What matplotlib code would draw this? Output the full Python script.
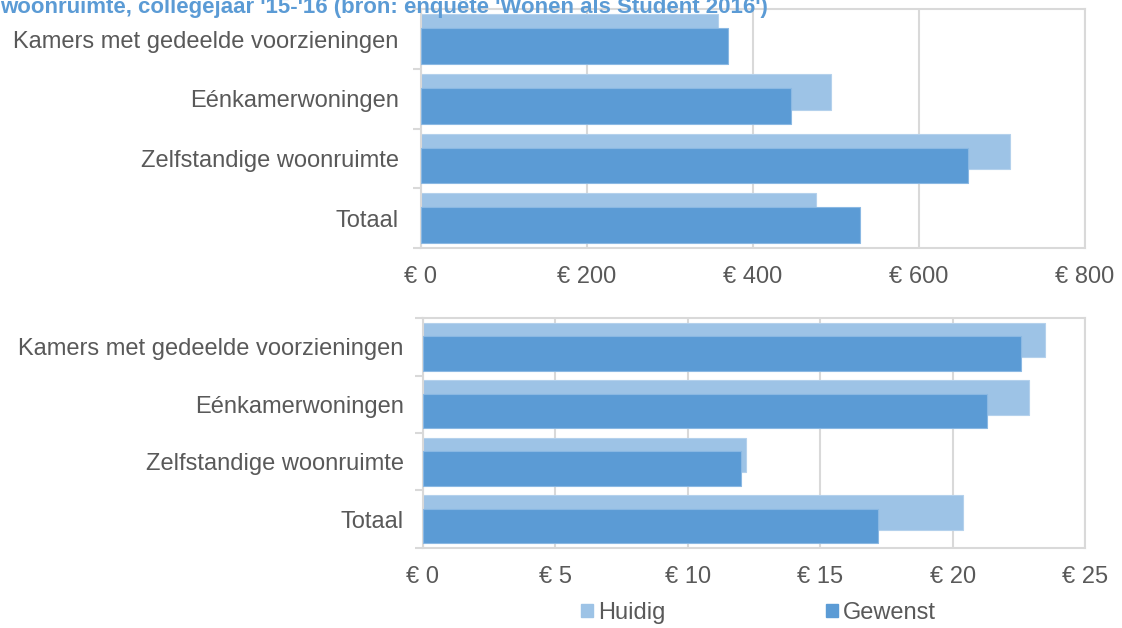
import numpy as np
import matplotlib.pyplot as plt
from matplotlib.patches import Patch

plt.rcParams['font.family'] = ['Liberation Sans', 'DejaVu Sans']

categories = ['Kamers met gedeelde voorzieningen', 'Eénkamerwoningen',
              'Zelfstandige woonruimte', 'Totaal']
series = ['Huidig', 'Gewenst']

# huur per maand (euro)
huur_huidig = [358, 494, 710, 476]
huur_gewenst = [370, 446, 659, 529]
huur_ticks = [0, 200, 400, 600, 800]

# huur per m2 (euro)
m2_huidig = [23.5, 22.9, 12.2, 20.4]
m2_gewenst = [22.6, 21.3, 12.0, 17.2]
m2_ticks = [0, 5, 10, 15, 20, 25]

title = "woonruimte, collegejaar '15-'16 (bron: enquête 'Wonen als Student 2016')"

c_huidig = '#9DC3E6'
c_gewenst = '#5B9BD5'
grid_c = '#D9D9D9'
text_c = '#595959'
fs = 17

fig = plt.figure(figsize=(11.22, 6.28), dpi=100)


def bar_panel(rect, huidig, gewenst, ticks, labelpad):
    ax = fig.add_axes(rect)
    y = np.arange(len(categories))
    w, d = 0.60, 0.235
    ax.barh(y - d / 2, huidig, height=w, color=c_huidig,
            edgecolor='#B4D1EC', linewidth=0.8, zorder=2)
    ax.barh(y + d / 2, gewenst, height=w, color=c_gewenst,
            edgecolor='#8AB8E3', linewidth=0.8, zorder=3)
    ax.set_ylim(len(categories) - 0.5, -0.5)
    ax.set_xlim(ticks[0], ticks[-1])
    ax.set_xticks(ticks)
    ax.set_xticklabels(['€ %d' % t for t in ticks])
    ax.set_yticks(y)
    ax.set_yticklabels(categories)
    ax.set_yticks(np.arange(len(categories) + 1) - 0.5, minor=True)
    ax.tick_params(axis='y', which='major', length=0, pad=labelpad,
                   labelsize=fs, labelcolor=text_c)
    ax.tick_params(axis='y', which='minor', length=6, width=1.5, color=grid_c)
    ax.tick_params(axis='x', length=0, pad=13, labelsize=fs, labelcolor=text_c)
    ax.grid(axis='x', color=grid_c, linewidth=1.5, zorder=0)
    ax.set_axisbelow(True)
    for s in ax.spines.values():
        s.set_color(grid_c)
        s.set_linewidth(1.5)
    return ax


bar_panel([0.3752, 0.6051, 0.5918, 0.3798], huur_huidig, huur_gewenst,
          huur_ticks, 16)
bar_panel([0.3770, 0.1274, 0.5900, 0.3662], m2_huidig, m2_gewenst,
          m2_ticks, 14)

fig.text(0.0, 0.980, title, fontsize=16, fontweight='bold', color=c_gewenst,
         ha='left', va='baseline')

handles = [Patch(color=c_huidig), Patch(color=c_gewenst)]
fig.legend(handles, series, loc='center', bbox_to_anchor=(0.676, 0.024),
           ncol=2, frameon=False, fontsize=fs, labelcolor=text_c,
           handlelength=0.5, handleheight=0.5, handletextpad=0.2,
           columnspacing=6.8)

fig.savefig('out.png', dpi=100)
